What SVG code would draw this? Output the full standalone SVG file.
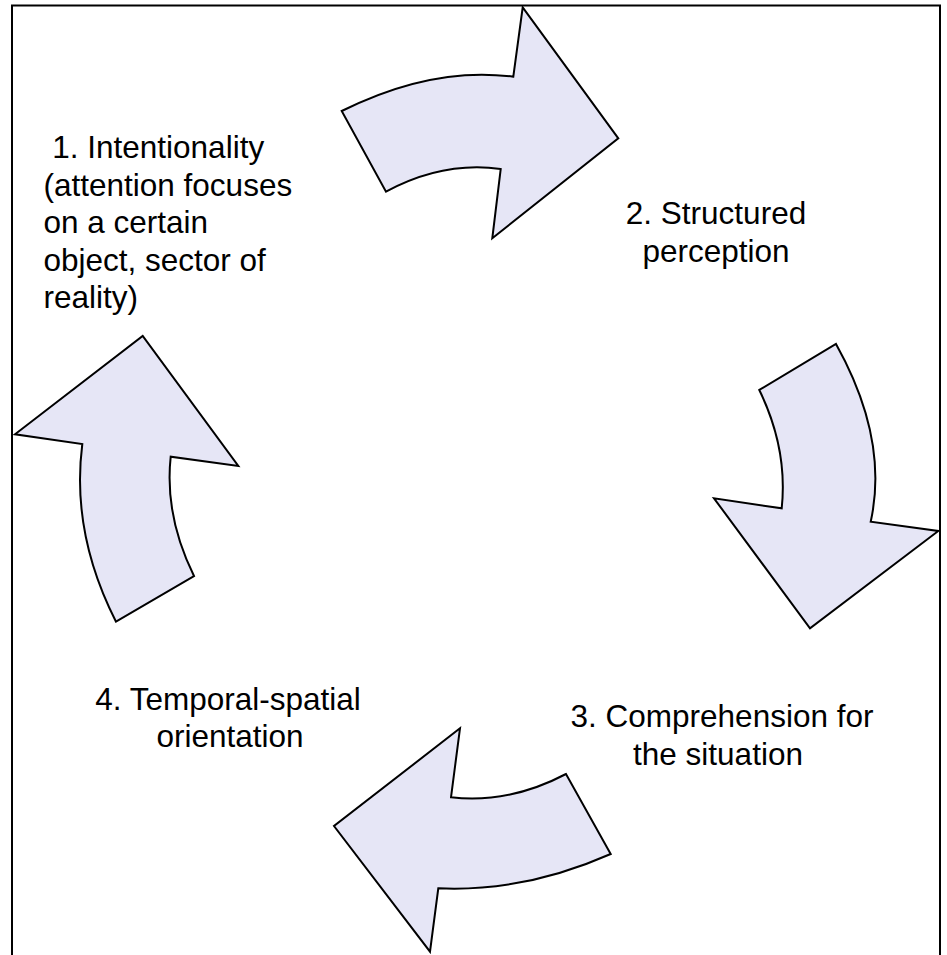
<svg xmlns="http://www.w3.org/2000/svg" width="947" height="955" viewBox="0 0 947 955">
  <style>
    .arrow { fill: #e6e6f6; stroke: #000; stroke-width: 2; stroke-linejoin: miter; }
    .label { font-family: "Liberation Sans", Arial, sans-serif; font-size: 31.5px; fill: #000; }
    .mid { text-anchor: middle; }
  </style>
  <rect width="947" height="955" fill="#fff"/>
  <!-- frame -->
  <rect x="12" y="5.5" width="928" height="1000" fill="none" stroke="#000" stroke-width="2"/>

  <g id="connectors">
    <!-- top: 1 -> 2 -->
    <path class="arrow" d="M341.7,111 Q432,66 513.3,76.7 L522.7,7.3 L618.3,138.3 L492.3,238.3 L500.7,169 Q443,161 386,191.7 Z"/>
    <!-- right: 2 -> 3 -->
    <path class="arrow" d="M836,344 Q889,439 870.7,521.7 L938.3,531 L810,628.3 L714,498.3 L781.7,508.3 Q788,449 759.3,390 Z"/>
    <!-- bottom: 3 -> 4 -->
    <path class="arrow" d="M610.7,854 Q524.5,892.2 438.3,888.3 L430,951.7 L334,826 L460,728.3 L451,797.3 Q509,804 566,774 Z"/>
    <!-- left: 4 -> 1 -->
    <path class="arrow" d="M116,621.7 Q70.9,532.9 82.3,444 L15,434.3 L142.7,336 L238.3,466 L170.7,456.7 Q164.3,515.7 194,576 Z"/>
  </g>

  <g id="node-1">
    <text class="label" x="43.5" y="158"><tspan x="43.5" xml:space="preserve"> 1. Intentionality</tspan><tspan x="43.5" y="195.5">(attention focuses</tspan><tspan x="43.5" y="233">on a certain</tspan><tspan x="43.5" y="270.5">object, sector of</tspan><tspan x="43.5" y="308">reality)</tspan></text>
  </g>
  <g id="node-2">
    <text class="label mid" x="716" y="223.5">2. Structured</text>
    <text class="label mid" x="716" y="261.5">perception</text>
  </g>
  <g id="node-3">
    <text class="label mid" x="722" y="727">3. Comprehension for</text>
    <text class="label mid" x="718" y="765">the situation</text>
  </g>
  <g id="node-4">
    <text class="label mid" x="228" y="709.5">4. Temporal-spatial</text>
    <text class="label mid" x="230" y="747">orientation</text>
  </g>
</svg>
